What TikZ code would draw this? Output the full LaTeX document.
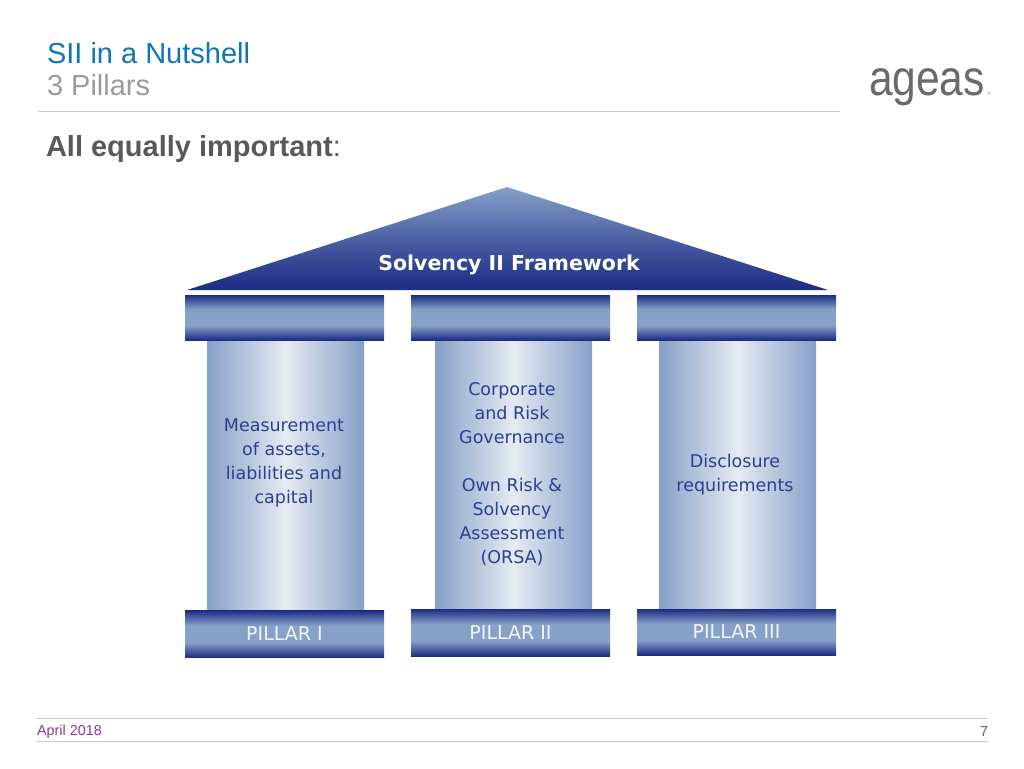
\documentclass[tikz,border=0pt]{standalone}
\usepackage{fontspec}
\setmainfont{Liberation Sans}
\newfontfamily\slidefont{DejaVu Sans}
\usepackage{tikz}
\usetikzlibrary{positioning}

\definecolor{titleBlue}{HTML}{0F75B5}
\definecolor{subGrey}{HTML}{9A9A9A}
\definecolor{headGrey}{HTML}{595959}
\definecolor{ruleGrey}{HTML}{C8C8C8}
\definecolor{datePurple}{HTML}{8A3A96}
\definecolor{barNavy}{HTML}{1C2C84}
\definecolor{barLight}{HTML}{86A0C8}
\definecolor{colLight}{HTML}{E6EBF3}
\definecolor{labelNavy}{HTML}{2C3F8E}

\pgfdeclareverticalshading{barshade}{100bp}{
 color(0bp)=(barNavy); color(25bp)=(barNavy); color(41bp)=(barLight);
 color(59bp)=(barLight); color(75bp)=(barNavy); color(100bp)=(barNavy)}
\pgfdeclareverticalshading{roofshade}{100bp}{
 color(0bp)=(barNavy); color(25bp)=(barNavy); color(45bp)=(barNavy!65!barLight);
 color(75bp)=(barLight); color(100bp)=(barLight)}

\tikzset{
 flat/.style={inner sep=0pt,outer sep=0pt},
 pillarbar/.style={flat,shading=barshade,minimum width=199pt,minimum height=#1},
 pillarcol/.style={flat,left color=barLight,right color=barLight,middle color=colLight,minimum width=157pt,minimum height=#1},
 barlabel/.style={flat,text=white!90!barLight,font=\slidefont\fontsize{19}{22}\selectfont},
 collabel/.style={flat,text=labelNavy,align=center,font=\slidefont\fontsize{17.5}{24}\selectfont},
 rule/.style={draw=ruleGrey,line width=0.8pt}
}

\begin{document}
\begin{tikzpicture}[x=1pt,y=-1pt]
\useasboundingbox (0,0) rectangle (1024,768);

% heading
\path (47,53) node[flat,anchor=west,name=title,text=titleBlue,font=\fontsize{29}{32}\selectfont] {SII in a Nutshell};
\path (47,85) node[flat,anchor=west,name=subtitle,text=subGrey,font=\fontsize{29}{32}\selectfont] {3 Pillars};
\path (46,149) node[flat,anchor=west,name=head,text=headGrey,font=\fontsize{29}{32}\selectfont] {\textbf{All equally important}:};
\path (869,95) node[flat,anchor=base west,name=logo,xscale=.85,transform shape,text=headGrey!90,font=\fontsize{50}{54}\selectfont] {ageas};
\path (989,95) node[flat,anchor=base,name=mark,text=headGrey!60,font=\fontsize{5}{6}\selectfont] {®};

\coordinate (ruleL) at (38,111);
\coordinate (ruleR) at (840,111);
\draw[rule] (ruleL) -- (ruleR);

% roof
\coordinate (roofL) at (187,290);
\coordinate (roofT) at (507,187);
\coordinate (roofR) at (828,290);
\shade[shading=roofshade] (roofL) -- (roofT) -- (roofR) -- cycle;
\path (509,265) node[flat,name=roof,text=white,font=\slidefont\bfseries\fontsize{20.5}{24}\selectfont] {Solvency II Framework};

% columns
\path (285.5,475) node[pillarcol=270pt,name=col1] {};
\path (513.5,474) node[pillarcol=268pt,name=col2] {};
\path (737.5,474) node[pillarcol=268pt,name=col3] {};

% bars
\path (284.5,317.5) node[pillarbar=45pt,name=top1] {};
\path (510.5,317.5) node[pillarbar=45pt,name=top2] {};
\path (736.5,317.5) node[pillarbar=45pt,name=top3] {};
\path (284.5,634) node[pillarbar=47pt,name=base1] {};
\path (510.5,632.5) node[pillarbar=47pt,name=base2] {};
\path (736.5,632) node[pillarbar=46pt,name=base3] {};

\path (base1) node[barlabel,name=pillar1] {PILLAR I};
\path (base2) node[barlabel,name=pillar2] {PILLAR II};
\path (base3) node[barlabel,name=pillar3] {PILLAR III};

\path (284,463) node[collabel,name=text1] {Measurement\\of assets,\\liabilities and\\capital};
\path (512,474) node[collabel,name=text2] {Corporate\\and Risk\\Governance\\[24pt]Own Risk \&\\Solvency\\Assessment\\(ORSA)};
\path (735,475) node[collabel,name=text3] {Disclosure\\requirements};

% footer
\coordinate (footAL) at (36,718);
\coordinate (footAR) at (988,718);
\coordinate (footBL) at (36,741);
\coordinate (footBR) at (988,741);
\draw[rule] (footAL) -- (footAR);
\draw[rule] (footBL) -- (footBR);
\path (37,732) node[flat,anchor=west,name=date,text=datePurple,font=\fontsize{14.4}{16}\selectfont] {April 2018};
\path (988,732) node[flat,anchor=east,name=page,text=datePurple,font=\fontsize{14.4}{16}\selectfont] {7};
\end{tikzpicture}
\end{document}
